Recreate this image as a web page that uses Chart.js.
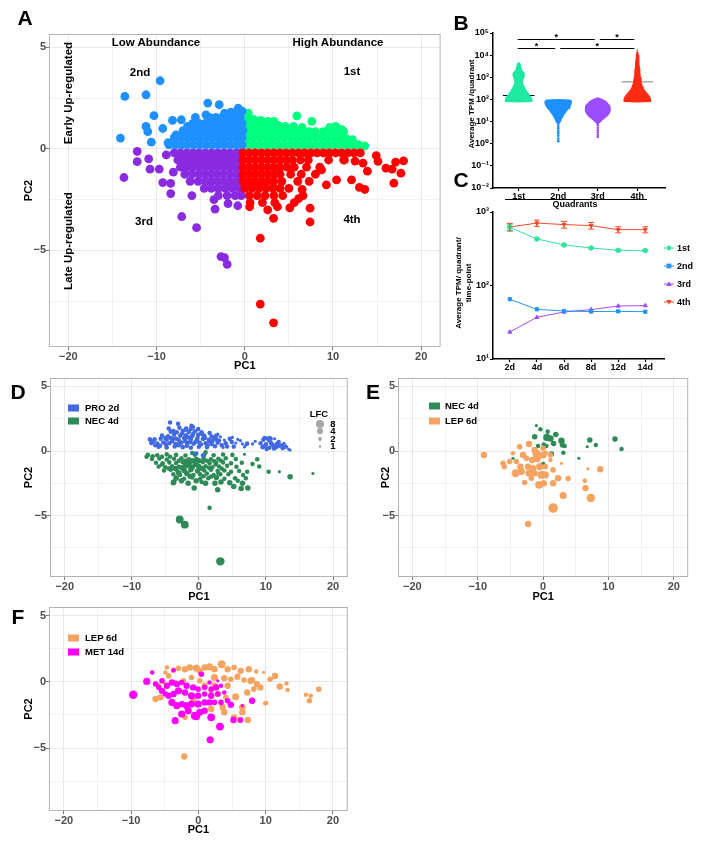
<!DOCTYPE html>
<html>
<head>
<meta charset="utf-8">
<script src="https://cdn.jsdelivr.net/npm/chart.js@4.4.0/dist/chart.umd.min.js"></script>
<style>
  body { margin: 0; width: 704px; height: 841px; position: relative; overflow: hidden; background: #fff; font-family: 'Liberation Sans', Arial, sans-serif; }
  .box { position: absolute; }
  .t { position: absolute; transform: translate(-50%, -50%); font-weight: bold; white-space: nowrap; line-height: 1; color: #000; }
  .rot { transform: translate(-50%, -50%) rotate(-90deg); }
  .letter { font-size: 21px; }
  .ann { font-size: 11.5px; }
  .small { font-size: 8px; }
  .lg { position: absolute; font-weight: bold; font-size: 9.5px; line-height: 1; white-space: nowrap; transform: translateY(-50%); }
  .sw { position: absolute; width: 11px; height: 7px; transform: translateY(-50%); }
</style>
</head>
<body>

<div class="box" style="left:18px;top:27px;width:427px;height:347px"><canvas id="chartA"></canvas></div>
<div class="box" style="left:460px;top:26px;width:209px;height:174px"><canvas id="chartB"></canvas></div>
<div class="box" style="left:460px;top:205px;width:209px;height:168px"><canvas id="chartC"></canvas></div>
<div class="box" style="left:18px;top:371px;width:334px;height:234px"><canvas id="chartD"></canvas></div>
<div class="box" style="left:375px;top:371px;width:318px;height:234px"><canvas id="chartE"></canvas></div>
<div class="box" style="left:18px;top:600px;width:334px;height:238px"><canvas id="chartF"></canvas></div>

<!-- panel letters -->
<div class="t letter" style="left:25px;top:17px">A</div>
<div class="t letter" style="left:461px;top:22px">B</div>
<div class="t letter" style="left:461px;top:179px">C</div>
<div class="t letter" style="left:18px;top:391px">D</div>
<div class="t letter" style="left:373px;top:391px">E</div>
<div class="t letter" style="left:18px;top:616px">F</div>

<!-- panel A notes -->
<div class="t ann" style="left:156px;top:43px">Low Abundance</div>
<div class="t ann" style="left:338px;top:43px">High Abundance</div>
<div class="t ann" style="left:140px;top:73px">2nd</div>
<div class="t ann" style="left:352px;top:72px">1st</div>
<div class="t ann" style="left:144px;top:222px">3rd</div>
<div class="t ann" style="left:352px;top:220px">4th</div>
<div class="t ann rot" style="left:69px;top:93px">Early Up-regulated</div>
<div class="t ann rot" style="left:69px;top:241px">Late Up-regulated</div>

<!-- panel B / C titles -->
<div class="t small rot" style="left:472px;top:104px">Average TPM /quadrant</div>
<div class="box" style="left:505px;top:199px;width:142px;border-top:1px solid #000"></div>
<div class="t" style="left:575px;top:204px;font-size:9px">Quadrants</div>
<div class="t small rot" style="left:459px;top:283px">Average TPM/ quadrant/</div>
<div class="t small rot" style="left:469px;top:283px">time-point</div>
<svg id="legendC" class="box" style="left:660px;top:238px" width="44" height="72"></svg>

<!-- D / E / F legends -->
<div class="sw" style="left:68px;top:408px;background:#4169E1"></div><div class="lg" style="left:85px;top:408px">PRO 2d</div>
<div class="sw" style="left:68px;top:421px;background:#2E8B57"></div><div class="lg" style="left:85px;top:421px">NEC 4d</div>
<div class="t" style="left:319px;top:414px;font-size:9.5px">LFC</div>
<div id="lfcKey"></div>
<div class="sw" style="left:429px;top:406px;background:#2E8B57"></div><div class="lg" style="left:445px;top:406px">NEC 4d</div>
<div class="sw" style="left:429px;top:421px;background:#F4A460"></div><div class="lg" style="left:445px;top:421px">LEP 6d</div>
<div class="sw" style="left:68px;top:638px;background:#F4A460"></div><div class="lg" style="left:85px;top:638px">LEP 6d</div>
<div class="sw" style="left:68px;top:652px;background:#FF00FF"></div><div class="lg" style="left:85px;top:652px">MET 14d</div>

<script>
// ---------- panel A : PC1 / PC2 per quadrant ----------
const quadrant1st = [
  [0.3,0.2],[1.0,0.2],[1.7,0.2],[2.4,0.2],[3.1,0.2],[3.8,0.2],[4.5,0.2],[5.2,0.2],[5.9,0.2],[6.6,0.2],[7.3,0.2],[8.0,0.2],[8.7,0.2],[9.4,0.2],[10.1,0.2],[10.8,0.2],[11.5,0.2],[12.2,0.2],[12.9,0.2],[13.6,0.15],
  [0.3,0.55],[1.0,0.55],[1.7,0.55],[2.4,0.55],[3.1,0.55],[3.8,0.55],[4.5,0.55],[5.2,0.55],[5.9,0.55],[6.6,0.55],[7.3,0.55],[8.0,0.55],[8.7,0.55],[9.4,0.55],[10.1,0.55],[10.8,0.55],[11.5,0.5],[12.2,0.45],
  [0.3,0.85],[1.0,0.85],[1.7,0.85],[2.4,0.85],[3.1,0.85],[3.8,0.85],[4.5,0.85],[5.2,0.85],[5.9,0.85],[6.6,0.85],[7.3,0.85],[8.0,0.85],[8.9,0.85],[9.8,0.85],[10.5,0.85],[11.2,0.85],
  [0.3,1.15],[1.0,1.15],[1.7,1.15],[2.4,1.15],[3.1,1.15],[3.8,1.15],[4.6,1.1],[5.5,1.1],[6.5,1.05],[9.6,1.05],[10.3,1.1],
  [0.3,1.45],[1.0,1.45],[1.8,1.4],[2.6,1.35],[3.3,1.35],[0.4,1.75],
  [5.9,1.62],[7.6,1.35],[10.4,1.05],[11.0,0.95]
];
const quadrant2nd = [
  [-8.6,0.2],[-7.9,0.2],[-7.2,0.2],[-6.5,0.2],[-5.8,0.2],[-5.1,0.2],[-4.4,0.2],[-3.7,0.2],[-3.0,0.2],[-2.3,0.2],[-1.6,0.2],[-0.9,0.2],[-0.3,0.2],
  [-8.0,0.55],[-7.3,0.55],[-6.6,0.55],[-5.9,0.55],[-5.2,0.55],[-4.5,0.55],[-3.8,0.55],[-3.1,0.55],[-2.4,0.55],[-1.7,0.55],[-1.0,0.55],[-0.3,0.55],
  [-7.0,0.9],[-6.3,0.9],[-5.6,0.9],[-4.9,0.9],[-4.2,0.9],[-3.5,0.9],[-2.8,0.9],[-2.1,0.9],[-1.4,0.9],[-0.7,0.9],[-0.2,0.9],
  [-5.9,1.25],[-5.2,1.25],[-4.5,1.25],[-3.8,1.25],[-3.1,1.25],[-2.4,1.25],[-1.7,1.25],[-1.0,1.25],[-0.3,1.25],
  [-4.0,1.55],[-3.3,1.55],[-2.6,1.55],[-1.9,1.55],[-1.2,1.55],[-0.5,1.55],[-1.6,1.8],[-0.9,1.85],[-0.3,1.85],
  [-13.6,2.58],[-11.2,2.66],[-9.6,3.35],[-10.3,1.63],[-14.1,0.53],[-11.2,1.1],[-11.0,0.85],[-10.6,0.33],[-9.3,1.0],[-8.2,1.4],
  [-7.2,1.43],[-7.8,0.69],[-8.7,0.3],[-4.2,2.25],[-2.9,2.17],[-4.4,1.67],[-5.6,1.55],[-0.75,2.0],[-2.3,1.75],[-6.5,1.1]
];
const quadrant3rd = [
  [-8.0,-0.2],[-7.3,-0.2],[-6.6,-0.2],[-5.9,-0.2],[-5.2,-0.2],[-4.5,-0.2],[-3.8,-0.2],[-3.1,-0.2],[-2.4,-0.2],[-1.7,-0.2],[-1.0,-0.2],[-0.4,-0.2],
  [-7.6,-0.55],[-6.9,-0.55],[-6.2,-0.55],[-5.5,-0.55],[-4.8,-0.55],[-4.1,-0.55],[-3.4,-0.55],[-2.7,-0.55],[-2.0,-0.55],[-1.3,-0.55],[-0.6,-0.55],
  [-7.3,-0.9],[-6.6,-0.9],[-5.9,-0.9],[-5.2,-0.9],[-4.5,-0.9],[-3.8,-0.9],[-3.1,-0.9],[-2.4,-0.9],[-1.7,-0.9],[-1.0,-0.9],[-0.4,-0.9],
  [-6.8,-1.25],[-6.0,-1.25],[-5.2,-1.25],[-4.5,-1.25],[-3.8,-1.25],[-3.1,-1.25],[-2.4,-1.25],[-1.7,-1.25],[-1.0,-1.25],[-0.4,-1.25],
  [-6.2,-1.6],[-5.3,-1.6],[-4.5,-1.6],[-3.8,-1.6],[-3.1,-1.6],[-2.4,-1.6],[-1.7,-1.6],[-1.0,-1.6],[-0.4,-1.6],
  [-4.6,-1.95],[-3.8,-1.95],[-3.0,-1.95],[-2.2,-1.95],[-1.4,-1.95],[-0.6,-1.95],[-3.0,-2.3],[-2.0,-2.3],[-1.1,-2.3],[-0.4,-2.3],
  [-12.2,-0.13],[-10.9,-0.49],[-12.2,-0.63],[-10.75,-1.0],[-9.7,-1.0],[-13.7,-1.41],[-9.3,-1.66],[-8.4,-2.2],[-8.4,-1.7],[-8.1,-1.15],
  [-6.0,-2.3],[-7.15,-3.33],[-5.47,-3.88],[-3.37,-2.97],[-3.5,-2.5],[-1.9,-2.7],[-0.8,-2.8],[-2.7,-5.3],[-2.3,-5.35],[-2.0,-5.68],[-8.9,-0.3]
];
const quadrant4th = [
  [-0.2,-0.2],[0.5,-0.2],[1.2,-0.2],[1.9,-0.2],[2.6,-0.2],[3.3,-0.2],[4.0,-0.2],[4.7,-0.2],[5.4,-0.2],[6.1,-0.2],[6.8,-0.2],[7.5,-0.2],[8.2,-0.2],[8.9,-0.2],[9.6,-0.2],[10.3,-0.2],[11.0,-0.2],[11.7,-0.2],[12.4,-0.2],[13.1,-0.2],
  [-0.2,-0.55],[0.5,-0.55],[1.2,-0.55],[1.9,-0.55],[2.6,-0.55],[3.3,-0.55],[4.0,-0.55],[4.7,-0.55],[5.4,-0.55],[6.3,-0.55],[7.2,-0.55],[9.5,-0.55],[11.2,-0.55],
  [-0.2,-0.9],[0.5,-0.9],[1.2,-0.9],[1.9,-0.9],[2.6,-0.9],[3.3,-0.9],[4.0,-0.9],[4.8,-0.9],[5.6,-0.9],[7.0,-0.9],[8.5,-0.9],
  [-0.2,-1.25],[0.5,-1.25],[1.2,-1.25],[1.9,-1.25],[2.6,-1.25],[3.3,-1.25],[4.0,-1.25],[5.2,-1.25],[6.4,-1.25],[8.0,-1.25],
  [-0.2,-1.6],[0.5,-1.6],[1.2,-1.6],[1.9,-1.6],[2.6,-1.6],[3.3,-1.6],[4.2,-1.6],[6.0,-1.6],[7.3,-1.6],
  [0.0,-1.95],[0.8,-1.95],[1.6,-1.95],[2.4,-1.95],[3.2,-1.95],[4.0,-1.95],[5.0,-1.95],
  [0.5,-2.3],[1.4,-2.3],[2.3,-2.3],[3.3,-2.3],[4.3,-2.3],[6.6,-2.3],[0.6,-2.65],[2.0,-2.65],[3.4,-2.65],[5.6,-2.65],
  [14.9,-0.33],[15.1,-0.62],[18.0,-0.59],[17.1,-0.65],[16.0,-0.95],[16.7,-1.0],[17.7,-1.2],[16.9,-1.69],[13.6,-2.0],[13.4,-0.7],
  [13.9,-1.1],[12.1,-1.53],[10.4,-1.53],[9.25,-1.77],[8.7,-1.03],[7.4,-2.92],[7.4,-3.6],[3.26,-3.42],[1.76,-4.4],[5.1,-2.9],
  [6.1,-2.45],[6.5,-2.0],[0.55,-2.85],[2.6,-3.0],[3.7,-2.85],[1.76,-7.64],[3.26,-8.56],[13.0,-1.9],[11.3,-0.55],[12.5,-0.6]
];

// ---------- panel B : average TPM per quadrant (log10 profile of each violin) ----------
const quadrantNames = ['1st', '2nd', '3rd', '4th'];
const violinLog1st = [1.9, 1.92, 2.0, 2.1, 2.2, 2.35, 2.5, 2.65, 2.8, 2.95, 3.1, 3.2, 3.3, 3.45, 3.6, 3.65];
const violinWidth1st = [0, 0.33, 0.33, 0.3, 0.26, 0.2, 0.15, 0.11, 0.09, 0.11, 0.14, 0.13, 0.07, 0.05, 0.03, 0];
const violinLog2nd = [0.9, 1.0, 1.1, 1.2, 1.3, 1.4, 1.5, 1.6, 1.7, 1.8, 1.9, 1.96, 1.98];
const violinWidth2nd = [0, 0.05, 0.07, 0.1, 0.13, 0.17, 0.21, 0.26, 0.3, 0.32, 0.33, 0.3, 0];
const violinLog3rd = [0.9, 1.0, 1.1, 1.2, 1.3, 1.4, 1.5, 1.6, 1.7, 1.8, 1.9, 2.0, 2.06];
const violinWidth3rd = [0, 0.07, 0.12, 0.19, 0.25, 0.29, 0.31, 0.31, 0.3, 0.25, 0.2, 0.1, 0];
const violinLog4th = [1.9, 1.92, 2.0, 2.1, 2.2, 2.3, 2.4, 2.5, 2.6, 2.7, 2.8, 3.0, 3.2, 3.4, 3.6, 3.8, 4.0, 4.15];
const violinWidth4th = [0, 0.33, 0.33, 0.31, 0.27, 0.22, 0.18, 0.14, 0.12, 0.1, 0.09, 0.07, 0.06, 0.05, 0.04, 0.03, 0.02, 0];
const tailTPM2nd = [8.5, 6.5, 5, 3.8, 3, 2.3, 1.7, 1.3];
const tailTPM3rd = [8.5, 6.8, 5.2, 4, 3.2, 2.5, 2];
const medianTPM = [150, null, null, 620];
const sigPairs = [[1, 3], [3, 4], [1, 2], [2, 4]];
const sigLevels = [56000, 56000, 21400, 21400];
const decadesB = [0.01, 0.1, 1, 10, 100, 1000, 10000, 100000];

// ---------- panel C : average TPM per quadrant per time-point ----------
const timePoints = ['2d', '4d', '6d', '8d', '12d', '14d'];
const tpm1st = [620, 430, 356, 324, 301, 299];
const tpm2nd = [65, 47.4, 45, 44.2, 44.5, 44];
const tpm3rd = [23.3, 36.9, 43.6, 47, 52.6, 53.3];
const tpm4th = [625, 707, 674, 653, 575, 575];
const err1st = [60, 12, 10, 8, 7, 7];
const err4th = [75, 70, 72, 68, 55, 55];
const decadesC = [10, 100, 1000];

// ---------- panels D, E, F : [PC1, PC2, LFC] ----------
const dPro2d = [
  [-6.0,0.32,2],[-4.8,0.28,2],[-3.6,0.35,2],[-2.4,0.3,2],[-1.2,0.26,2],[0.0,0.33,2],[1.2,0.3,2],[2.4,0.36,2],[3.6,0.28,1],[5.2,0.34,2],[6.8,0.31,1],[9.5,0.3,2],[10.5,0.25,2],[11.5,0.3,2],[12.5,0.22,2],[13.4,0.12,1],
  [-7.1,0.62,2],[-6.2,0.58,2],[-5.3,0.65,2],[-4.4,0.6,2],[-3.5,0.55,2],[-2.6,0.66,2],[-1.7,0.6,2],[-0.8,0.57,2],[0.1,0.63,2],[1.0,0.6,2],[1.9,0.55,2],[2.8,0.64,2],[4.0,0.6,2],[5.5,0.62,1],[7.2,0.58,2],[9.2,0.6,2],[10.0,0.52,2],[10.8,0.6,2],[11.6,0.55,2],[12.4,0.45,2],
  [-6.6,0.9,2],[-5.7,0.95,2],[-4.8,0.88,2],[-3.9,0.93,2],[-3.0,0.86,2],[-2.1,0.95,2],[-1.2,0.9,2],[-0.3,0.85,2],[0.6,0.93,2],[1.5,0.88,2],[2.6,0.9,2],[3.8,0.85,1],[4.6,0.95,2],[6.2,0.8,1],[8.4,0.75,1],[9.6,0.88,2],[10.5,0.8,2],[11.3,0.95,1],
  [-5.5,1.2,2],[-4.6,1.15,2],[-3.7,1.25,2],[-2.8,1.18,2],[-1.9,1.22,2],[-1.0,1.15,2],[-0.1,1.25,2],[0.8,1.18,2],[1.9,1.12,2],[3.2,1.1,1],[5.0,1.05,1],[9.8,1.0,2],[10.6,1.05,1],
  [-4.2,1.5,2],[-3.3,1.45,2],[-2.4,1.55,2],[-1.5,1.48,2],[-0.6,1.52,2],[0.4,1.45,2],[1.6,1.4,2],[2.8,1.3,1],
  [-2.9,1.8,2],[-1.9,1.75,2],[-0.9,1.85,2],[-0.1,1.7,2],
  [-4.3,2.2,2],[-3.1,2.1,2],[-1.1,1.95,2],[-4.5,1.75,2],[-7.3,0.9,2],[13.6,0.08,1],[8.0,0.55,1],[7.0,0.45,1],[-0.4,-0.2,2],[0.6,-0.35,2],
  [-3.0,0.45,2],[-2.0,0.75,2],[-1.5,1.05,2],[-0.5,0.7,2],[-2.5,1.35,2],[0.5,1.3,2],[-4.0,0.75,2],[-5.0,1.0,2],[1.5,0.75,2],[-6.5,0.45,2],
  [2.2,1.0,2],[3.4,0.45,2],[10.2,0.97,2],[11.9,0.7,2],[12.9,0.35,2],[10.1,0.15,2],[11.0,0.45,2],
  [-6.8,0.75,2],[-5.8,0.4,2],[-4.9,0.5,2],[-4.2,1.0,2],[-3.4,0.95,2],[-2.9,0.6,2],[-2.2,1.0,2],[-1.8,0.4,2],[-1.3,0.7,2],[-0.9,1.3,2],
  [-0.2,1.0,2],[0.3,0.5,2],[0.9,1.0,2],[1.3,0.45,2],[2.0,0.75,2],[2.6,1.2,2],[3.0,0.8,2],[4.2,0.35,2],[4.9,0.7,2],[5.8,0.9,1],
  [6.5,0.55,1],[-3.8,1.55,2],[-2.0,1.65,2],[-1.2,1.7,2],[9.9,0.4,2],[10.7,0.95,2],[11.2,0.2,2],[12.0,0.4,2],[12.7,0.6,1],[13.1,0.3,1]
];
const dNec4d = [
  [-7.6,-0.3,2],[-6.2,-0.32,2],[-4.8,-0.26,2],[-3.4,-0.3,2],[-2.0,-0.35,2],[-0.6,-0.28,2],[0.8,-0.3,2],[2.2,-0.33,2],[3.6,-0.27,2],[5.0,-0.3,2],[6.8,-0.25,1],
  [-7.0,-0.62,2],[-5.9,-0.58,2],[-4.8,-0.65,2],[-3.7,-0.6,2],[-2.6,-0.56,2],[-1.5,-0.64,2],[-0.4,-0.6,2],[0.7,-0.58,2],[1.8,-0.64,2],[2.9,-0.6,2],[4.0,-0.56,2],[5.5,-0.62,2],[8.7,-0.64,2],
  [-6.4,-0.9,2],[-5.4,-0.95,2],[-4.4,-0.88,2],[-3.4,-0.93,2],[-2.4,-0.87,2],[-1.4,-0.95,2],[-0.4,-0.9,3],[0.6,-0.86,2],[1.6,-0.94,2],[2.6,-0.9,2],[3.6,-0.88,2],[4.8,-0.95,2],[6.4,-0.9,2],
  [-6.0,-1.2,2],[-5.0,-1.25,2],[-4.0,-1.18,2],[-3.0,-1.22,2],[-2.0,-1.15,3],[-1.0,-1.25,3],[0.0,-1.2,3],[1.0,-1.18,2],[2.0,-1.25,2],[3.0,-1.2,2],[4.2,-1.15,2],[5.6,-1.22,2],
  [-5.2,-1.5,2],[-4.2,-1.45,2],[-3.2,-1.55,2],[-2.2,-1.5,3],[-1.2,-1.45,3],[-0.2,-1.55,3],[0.8,-1.5,2],[1.8,-1.45,2],[2.8,-1.55,2],[3.8,-1.5,2],[6.0,-1.55,2],[7.2,-1.6,2],[10.4,-1.6,2],[12.0,-1.6,1],
  [-3.8,-1.8,2],[-2.8,-1.85,2],[-1.8,-1.75,3],[-0.8,-1.85,2],[0.2,-1.8,2],[1.2,-1.75,2],[2.2,-1.85,2],[3.2,-1.8,2],[4.4,-1.8,2],[6.6,-1.85,2],
  [-3.4,-2.1,3],[-2.2,-2.15,2],[-1.0,-2.05,2],[0.2,-2.15,2],[1.4,-2.1,2],[2.6,-2.05,3],[3.8,-2.15,2],[5.4,-2.1,2],
  [-3.8,-2.45,3],[-1.6,-2.5,3],[0.4,-2.4,2],[2.4,-2.5,3],[4.6,-2.45,3],[6.5,-2.5,3],
  [-0.7,-2.87,3],[2.8,-3.0,3],[5.2,-2.75,3],[6.3,-2.9,3],[7.3,-2.87,3],
  [-7.8,-0.45,2],[-2.86,-5.3,6],[-2.1,-5.7,6],[3.2,-8.54,7],[1.6,-4.4,2],[17.0,-1.74,1],[13.6,-2.0,3],[9.0,-1.2,2],[-3.75,-2.4,3],[1.0,-0.1,2],[-1.0,-0.15,2],
  [-6.9,-0.4,2],[-5.5,-0.45,2],[-4.3,-0.45,2],[-3.0,-0.75,2],[-2.0,-0.8,3],[-1.0,-0.75,3],[0.0,-0.75,3],[1.2,-0.75,2],[2.3,-0.8,2],[3.3,-0.75,2],
  [-5.5,-1.05,2],[-4.5,-1.35,2],[-3.5,-1.35,3],[-2.5,-1.3,3],[-1.5,-1.1,3],[-0.5,-1.05,3],[0.5,-1.35,3],[1.5,-1.3,2],[2.5,-1.05,2],[3.4,-1.35,2],
  [-3.0,-1.7,3],[-1.3,-1.95,3],[0.7,-1.95,2],[1.8,-2.0,2],[2.9,-1.7,2],[4.8,-1.6,2],[-2.6,-2.3,3],[-0.4,-2.3,3],[1.0,-2.5,3],[3.3,-2.4,3],
  [5.8,-2.3,2],[7.0,-2.1,2],[8.0,-1.0,2]
];
const eNec4d = [
  [-1.03,1.97,1],[-0.41,1.69,2],[-1.28,1.1,3],[0.56,1.05,5],[1.12,0.97,4],[1.94,1.28,3],[2.81,0.79,4],[2.96,0.46,3],[3.3,0.38,2],[0.5,0.38,2],
  [-0.77,0.38,2],[1.6,0.58,3],[1.27,-0.23,3],[3.1,-0.13,2],[5.47,-0.56,1],[6.75,0.33,1],[7.15,0.85,3],[8.07,0.46,2],[11.0,0.92,3],[12.0,0.15,2],
  [0.0,-1.0,2],[-4.6,-0.56,1],[0.7,1.5,2],[0.1,0.5,2]
];
const eLep6d = [
  [-9.05,-0.31,4],[-4.6,-0.18,2],[-3.59,0.33,3],[-3.07,-0.31,4],[-2.15,0.54,4],[-1.29,0.08,4],[-0.92,-0.56,6],[-2.56,-0.56,3],[-4.1,-0.82,3],[-3.48,-1.21,4],
  [-2.3,-1.21,4],[-1.53,-1.33,4],[-0.52,-1.21,5],[0.35,-1.21,3],[-4.2,-1.72,6],[-3.33,-1.59,5],[-2.15,-1.72,5],[-1.29,-1.72,4],[-0.26,-1.85,6],[0.35,-1.85,5],
  [-5.94,-1.21,3],[-6.13,-0.95,3],[-5.12,-0.82,3],[-2.82,-2.44,3],[-1.79,-2.1,3],[-0.61,-2.62,6],[0.1,-2.49,4],[1.12,-0.31,3],[1.53,-1.46,3],[1.53,-2.49,4],
  [2.3,-2.1,4],[2.81,-0.95,1],[3.83,-2.13,3],[6.38,-2.31,2],[6.49,-2.87,4],[6.84,-1.38,1],[8.74,-1.41,4],[7.3,-3.64,7],[3.07,-3.44,5],[1.53,-4.41,9],
  [-2.3,-5.64,4],[0.0,0.21,3],[0.4,-0.13,2],[1.12,-0.69,2],[0.0,-0.31,5],[-1.03,-0.18,6],[-1.69,-0.69,4]
];
const fLep6d = [
  [-4.67,1.08,2],[-3.69,0.88,3],[-2.96,1.03,3],[-1.99,0.95,4],[-1.26,1.08,4],[-0.29,1.03,5],[0.2,0.83,4],[0.93,1.08,4],[1.66,1.13,5],[2.39,0.95,4],
  [3.46,1.33,6],[4.34,0.95,4],[5.31,1.08,3],[6.28,0.83,4],[7.5,0.95,4],[8.6,0.78,2],[9.7,0.71,1],[10.66,0.2,3],[11.39,0.45,4],[12.1,-0.35,4],
  [13.1,-0.12,2],[13.24,-0.62,2],[16.0,-0.98,2],[16.7,-1.05,2],[16.5,-1.43,3],[17.9,-0.55,3],[2.39,0.33,5],[3.85,0.28,4],[4.82,0.2,3],[5.8,0.38,4],
  [6.77,0.13,3],[7.74,0.08,4],[8.7,-0.17,4],[9.2,-0.42,4],[8.23,-0.55,3],[7.26,-0.8,4],[5.55,-1.13,5],[4.09,-1.17,3],[2.88,-0.92,4],[1.9,-0.68,3],
  [0.93,-0.3,4],[0.2,0.08,3],[-1.02,0.33,3],[-2.23,0.08,3],[-3.45,-0.05,3],[-4.42,0.45,3],[-5.15,-0.05,2],[-5.88,-0.23,2],[-6.36,-1.3,4],[-5.64,-1.17,4],
  [9.93,-1.62,2],[6.53,-1.92,4],[6.53,-2.3,4],[5.31,-2.68,4],[6.19,-2.88,4],[7.36,-2.88,4],[3.61,-1.92,4],[3.85,-2.3,4],[1.9,-2.05,4],[-0.04,-1.68,4],
  [-0.77,-1.3,4],[-1.99,-2.68,3],[7.99,0.13,4],[-4.9,0.71,2],[2.39,-0.3,4],[4.34,-0.3,4],[-2.09,-5.64,4],[10.07,-1.6,2]
];
const fMet14d = [
  [-9.68,-0.98,7],[-7.68,0.03,5],[-6.86,0.71,2],[-6.36,-0.17,3],[-5.88,-0.42,3],[-5.4,0.08,3],[-4.67,-0.3,4],[-3.94,-0.05,4],[-3.21,-0.17,4],[-2.48,-0.05,3],
  [-1.75,-0.3,4],[-0.77,-0.42,4],[-0.04,-0.55,3],[0.93,-0.42,3],[1.9,-0.55,3],[2.63,-0.42,4],[3.36,-0.3,2],[-5.4,-0.68,4],[-4.42,-1.05,4],[-3.69,-0.92,4],
  [-2.96,-0.68,5],[-1.99,-0.8,4],[-1.02,-1.05,5],[-0.04,-1.05,4],[0.93,-0.92,3],[1.9,-1.05,4],[2.88,-0.92,3],[3.85,-0.8,2],[-3.94,-1.55,5],[-3.21,-1.8,5],
  [-2.48,-1.68,4],[-1.75,-1.8,5],[-1.02,-1.68,5],[-0.04,-1.68,5],[0.93,-1.55,4],[1.66,-1.55,4],[2.39,-1.55,3],[3.36,-1.55,3],[4.34,-1.43,3],[4.82,-1.73,4],
  [7.99,-1.43,4],[6.53,-1.8,1],[-2.48,-2.43,5],[-1.51,-2.18,5],[-0.53,-2.56,6],[0.2,-2.3,5],[0.93,-2.18,4],[1.9,-2.68,6],[-3.45,-2.93,5],[-0.29,-2.63,5],
  [3.21,-3.38,6],[5.21,-2.88,4],[6.28,-2.88,3],[1.75,-4.38,5],[0.44,0.58,3],[-3.69,0.88,2],[-4.9,-0.92,3],[1.66,-0.05,2],[2.88,0.08,1]
];
const lfcLegend = [8, 4, 2, 1];

// ---------- shared helpers ----------
Chart.defaults.font.family = "'Liberation Sans', 'DejaVu Sans', sans-serif";
Chart.defaults.animation = false;
const pcXRange = [-22.2, 22.2];
const pcYRange = [-9.75, 5.65];
const pcXBreaks = [-20, -15, -10, -5, 0, 5, 10, 15, 20];
const pcYBreaks = [-7.5, -5, -2.5, 0, 2.5, 5];
const minus = v => (v < 0 ? '\u2212' + Math.abs(v) : String(v));
const lfcRadius = lfc => 1.6 * Math.sqrt(lfc);
const toXY = arr => arr.map(p => ({ x: p[0], y: p[1] }));
const toXYL = arr => arr.map(p => ({ x: p[0], y: p[1], lfc: p[2] }));
const sup = { '-': '\u207B', '0': '\u2070', '1': '\u00B9', '2': '\u00B2', '3': '\u00B3', '4': '\u2074', '5': '\u2075' };
const pow10 = v => '10' + String(Math.round(Math.log10(v))).split('').map(c => sup[c]).join('');

const panelBorder = {
  id: 'panelBorder',
  afterDraw(chart) {
    const { ctx, chartArea: a } = chart;
    ctx.save();
    ctx.strokeStyle = '#b3b3b3';
    ctx.lineWidth = 1;
    ctx.strokeRect(a.left + 0.5, a.top + 0.5, a.width - 1, a.height - 1);
    ctx.restore();
  }
};

function pcaAxis(range, breaks, major, title, fitFn) {
  return {
    type: 'linear', min: range[0], max: range[1],
    afterBuildTicks: s => { s.ticks = breaks.map(v => ({ value: v })); },
    afterFit: fitFn,
    ticks: { callback: v => (v % major === 0 ? minus(v) : ''), color: '#4d4d4d', font: { size: 11, weight: 'bold' }, padding: 0, maxRotation: 0, autoSkip: false },
    grid: { color: c => (c.tick && c.tick.value % major === 0 ? '#e8e8e8' : '#f1f1f1'), tickLength: 3, tickColor: c => (c.tick && c.tick.value % major === 0 ? '#777' : 'rgba(0,0,0,0)') },
    border: { display: false },
    title: { display: true, text: title, color: '#000', font: { size: 11, weight: 'bold' }, padding: { top: 4, bottom: 1 } }
  };
}

function pcaChart(id, datasets, yw, xh) {
  return new Chart(document.getElementById(id), {
    type: 'scatter',
    data: { datasets },
    plugins: [panelBorder],
    options: {
      responsive: true, maintainAspectRatio: false, events: [],
      layout: { padding: { top: 7, right: 2, left: 0, bottom: 0 } },
      plugins: { legend: { display: false }, tooltip: { enabled: false } },
      scales: {
        x: pcaAxis(pcXRange, pcXBreaks, 10, 'PC1', s => { s.height = xh; }),
        y: pcaAxis(pcYRange, pcYBreaks, 5, 'PC2', s => { s.width = yw; })
      }
    }
  });
}

const fixedDots = (data, color, order) => ({ data: toXY(data), backgroundColor: color, borderWidth: 0, pointRadius: 4.4, order });
const lfcDots = (data, color, order) => ({ data: toXYL(data), backgroundColor: color, borderWidth: 0, pointRadius: c => lfcRadius(c.raw.lfc), order });

// ---------- A ----------
pcaChart('chartA', [
  fixedDots(quadrant4th, '#FF0000', 1),
  fixedDots(quadrant2nd, '#1E90FF', 2),
  fixedDots(quadrant3rd, '#8A2BE2', 3),
  fixedDots(quadrant1st, '#00FF7F', 4)
], 31, 27);

// ---------- D, E, F ----------
pcaChart('chartD', [lfcDots(dPro2d, '#4169E1', 1), lfcDots(dNec4d, '#2E8B57', 2)], 32, 28);
pcaChart('chartE', [lfcDots(eLep6d, '#F4A460', 1), lfcDots(eNec4d, '#2E8B57', 2)], 23, 28);
pcaChart('chartF', [lfcDots(fMet14d, '#FF00FF', 1), lfcDots(fLep6d, '#F4A460', 2)], 31, 27);

// LFC size key for D
const lfcKey = document.getElementById('lfcKey');
lfcLegend.forEach((v, i) => {
  const r = lfcRadius(v) * 0.9, cy = 423.7 + i * 7.5;
  lfcKey.insertAdjacentHTML('beforeend',
    `<div style="position:absolute;left:${320 - r}px;top:${cy - r}px;width:${2 * r}px;height:${2 * r}px;border-radius:50%;background:#a6a6a6"></div>` +
    `<div class="t" style="left:333px;top:${cy}px;font-size:9.5px">${v}</div>`);
});

// ---------- B ----------
const violinColors = ['#1FE8A0', '#1E8FFF', '#9B4DFF', '#FF2A12'];
const violinLogs = [violinLog1st, violinLog2nd, violinLog3rd, violinLog4th];
const violinWidths = [violinWidth1st, violinWidth2nd, violinWidth3rd, violinWidth4th];

const bSets = [];
violinLogs.forEach((logs, k) => {
  const cat = k + 1, w = violinWidths[k];
  const left = logs.map((l, i) => ({ x: cat - w[i], y: Math.pow(10, l) }));
  const right = logs.map((l, i) => ({ x: cat + w[i], y: Math.pow(10, l) })).reverse();
  bSets.push({ data: left.concat(right), showLine: true, fill: 'shape', borderColor: violinColors[k], backgroundColor: violinColors[k], borderWidth: 1.5, pointRadius: 0, tension: 0 });
  if (medianTPM[k]) {
    bSets.push({ data: [{ x: cat - 0.4, y: medianTPM[k] }, { x: cat + 0.4, y: medianTPM[k] }], showLine: true, borderColor: k === 3 ? '#7f7f7f' : '#000', borderWidth: 1, pointRadius: 0 });
  }
});
bSets.push({ data: tailTPM2nd.map(v => ({ x: 2, y: v })), backgroundColor: violinColors[1], pointRadius: 1.4, borderWidth: 0 });
bSets.push({ data: tailTPM3rd.map(v => ({ x: 3, y: v })), backgroundColor: violinColors[2], pointRadius: 1.3, borderWidth: 0 });

const sigBrackets = {
  id: 'sigBrackets',
  afterDatasetsDraw(chart) {
    const { ctx, scales: { x, y } } = chart;
    ctx.save();
    ctx.strokeStyle = '#000'; ctx.fillStyle = '#000'; ctx.lineWidth = 1;
    ctx.font = "bold 9px 'Liberation Sans'"; ctx.textAlign = 'center'; ctx.textBaseline = 'alphabetic';
    sigPairs.forEach(([a, b], i) => {
      const yy = Math.round(y.getPixelForValue(sigLevels[i])) + 0.5;
      const x1 = x.getPixelForValue(a) + (a === 1 ? -1 : 2);
      const x2 = x.getPixelForValue(b) - 3;
      ctx.beginPath(); ctx.moveTo(x1, yy); ctx.lineTo(x2, yy); ctx.stroke();
      ctx.fillText('*', (x1 + x2) / 2, yy + 0.5);
    });
    ctx.restore();
  }
};

const prismAxis = {
  grid: { drawOnChartArea: false, tickLength: 3, tickColor: '#000', tickWidth: 1.2 },
  border: { color: '#000', width: 1.5 }
};

new Chart(document.getElementById('chartB'), {
  type: 'scatter',
  data: { datasets: bSets },
  plugins: [sigBrackets],
  options: {
    responsive: true, maintainAspectRatio: false, events: [],
    layout: { padding: { top: 7, right: 2 } },
    plugins: { legend: { display: false }, tooltip: { enabled: false } },
    scales: {
      x: {
        type: 'linear', min: 0.35, max: 4.7,
        afterBuildTicks: s => { s.ticks = quadrantNames.map((n, i) => ({ value: i + 1 })); },
        afterFit: s => { s.height = 12; },
        ticks: { callback: v => quadrantNames[v - 1] || '', color: '#000', font: { size: 9, weight: 'bold' }, padding: 0, maxRotation: 0, autoSkip: false },
        ...prismAxis
      },
      y: {
        type: 'logarithmic', min: 0.01, max: 100000,
        afterBuildTicks: s => { s.ticks = decadesB.map(v => ({ value: v })); },
        afterFit: s => { s.width = 33; },
        ticks: { callback: v => pow10(v), color: '#000', font: { size: 9, weight: 'bold' }, padding: 1, autoSkip: false },
        ...prismAxis
      }
    }
  }
});

// ---------- C ----------
const cSeries = [
  { label: '1st', values: tpm1st, errors: err1st, color: '#33E39E', style: 'circle', rot: 0 },
  { label: '2nd', values: tpm2nd, errors: null, color: '#2196F3', style: 'rect', rot: 0 },
  { label: '3rd', values: tpm3rd, errors: null, color: '#A24DF0', style: 'triangle', rot: 0 },
  { label: '4th', values: tpm4th, errors: err4th, color: '#EE4B2B', style: 'triangle', rot: 180 }
];

const errorBars = {
  id: 'errorBars',
  afterDatasetsDraw(chart) {
    const { ctx, scales: { x, y } } = chart;
    chart.data.datasets.forEach(ds => {
      if (!ds.errors) return;
      ctx.save();
      ctx.strokeStyle = ds.borderColor; ctx.lineWidth = 1;
      ds.data.forEach((p, i) => {
        const e = ds.errors[i];
        const px = x.getPixelForValue(p.x), top = y.getPixelForValue(p.y + e), bot = y.getPixelForValue(p.y - e);
        ctx.beginPath();
        ctx.moveTo(px, top); ctx.lineTo(px, bot);
        ctx.moveTo(px - 3, top); ctx.lineTo(px + 3, top);
        ctx.moveTo(px - 3, bot); ctx.lineTo(px + 3, bot);
        ctx.stroke();
      });
      ctx.restore();
    });
  }
};

new Chart(document.getElementById('chartC'), {
  type: 'scatter',
  data: {
    datasets: cSeries.map(s => ({
      label: s.label,
      data: s.values.map((v, i) => ({ x: i, y: v })),
      errors: s.errors,
      showLine: true,
      borderColor: s.color, backgroundColor: s.color, borderWidth: 1,
      pointStyle: s.style, rotation: s.rot, pointRadius: 2.3
    }))
  },
  plugins: [errorBars],
  options: {
    responsive: true, maintainAspectRatio: false, events: [],
    layout: { padding: { top: 7, right: 2 } },
    plugins: { legend: { display: false }, tooltip: { enabled: false } },
    scales: {
      x: {
        type: 'linear', min: -0.62, max: 5.69,
        afterBuildTicks: s => { s.ticks = timePoints.map((t, i) => ({ value: i })); },
        afterFit: s => { s.height = 14; },
        ticks: { callback: v => timePoints[v] || '', color: '#000', font: { size: 9, weight: 'bold' }, padding: 0, maxRotation: 0, autoSkip: false },
        ...prismAxis
      },
      y: {
        type: 'logarithmic', min: 10, max: 1000,
        afterBuildTicks: s => { s.ticks = decadesC.map(v => ({ value: v })); },
        afterFit: s => { s.width = 33; },
        ticks: { callback: v => pow10(v), color: '#000', font: { size: 9, weight: 'bold' }, padding: 1, autoSkip: false },
        ...prismAxis
      }
    }
  }
});

// legend for C
const legendC = document.getElementById('legendC');
const markerSvg = (s, cy) => {
  if (s.style === 'circle') return `<circle cx="9" cy="${cy}" r="2.4" fill="${s.color}"/>`;
  if (s.style === 'rect') return `<rect x="6.6" y="${cy - 2.4}" width="4.8" height="4.8" fill="${s.color}"/>`;
  if (s.rot === 180) return `<polygon points="6.2,${cy - 2} 11.8,${cy - 2} 9,${cy + 2.8}" fill="${s.color}"/>`;
  return `<polygon points="6.2,${cy + 2} 11.8,${cy + 2} 9,${cy - 2.8}" fill="${s.color}"/>`;
};
legendC.innerHTML = cSeries.map((s, i) => {
  const cy = 10 + i * 18;
  return `<line x1="4" y1="${cy}" x2="14" y2="${cy}" stroke="${s.color}" stroke-width="1"/>` + markerSvg(s, cy) +
    `<text x="17" y="${cy + 3.2}" font-family="Liberation Sans" font-weight="bold" font-size="9">${s.label}</text>`;
}).join('');
</script>
</body>
</html>
